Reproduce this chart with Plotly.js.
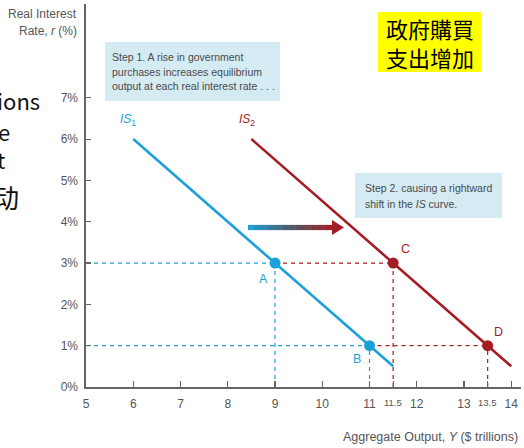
<!DOCTYPE html>
<html>
<head>
<meta charset="utf-8">
<script src="https://cdn.plot.ly/plotly-3.0.1.min.js"></script>
<style>
  html, body { margin: 0; padding: 0; background: #fff; }
  #chart { width: 524px; height: 448px; }
</style>
</head>
<body>
<div id="chart"></div>
<script>
// IS curves: aggregate output (Y, $ trillions) against real interest rate (r, %)
const is1X = [6, 11.5];
const is1Y = [6, 0.5];
const is2X = [8.5, 14];
const is2Y = [6, 0.5];

// Equilibrium points on each curve
const pointNames = ['A', 'B', 'C', 'D'];
const pointX = [9, 11, 11.5, 13.5];
const pointY = [3, 1, 3, 1];

// Axis ticks
const xTickVals = [5, 6, 7, 8, 9, 10, 11, 11.5, 12, 13, 13.5, 14];
const xTickText = ['5', '6', '7', '8', '9', '10', '11', '11.5', '12', '13', '13.5', '14'];
const yTickVals = [0, 1, 2, 3, 4, 5, 6, 7];
const yTickText = ['0%', '1%', '2%', '3%', '4%', '5%', '6%', '7%'];

// Text
const yTitleLines = ['Real Interest', 'Rate, <i>r</i> (%)'];
const xTitle = 'Aggregate Output, <i>Y</i> ($ trillions)';
const step1Lines = ['Step 1. A rise in government', 'purchases increases equilibrium', 'output at each real interest rate . . .'];
const step2Lines = ['Step 2. causing a rightward', 'shift in the <i>IS</i> curve.'];
const noteLines = ['政府購買', '支出增加'];
const sideText = ['ions', 'e', 't', '动'];

const CYAN = '#1ca0d8';
const RED = '#a51d24';
const AXIS = '#666666';
const LABEL = '#555555';

// Plot area in page pixels
const W = 524, H = 448;
const M = { l: 86, r: 3, t: 4, b: 61 };
const PW = W - M.l - M.r, PH = H - M.t - M.b;
const px = x => (x - M.l) / PW;        // page x -> paper x
const py = y => (H - M.b - y) / PH;    // page y -> paper y

const xRange = [5, 14.206];
const yRange = [0, 9.27];

const [A, B, C, D] = pointNames.map((n, i) => ({ x: pointX[i], y: pointY[i] }));

function guide(x0, y0, x1, y1, color) {
  return {
    x: [x0, x1], y: [y0, y1], mode: 'lines', hoverinfo: 'skip', showlegend: false,
    line: { color: color, width: 1.2, dash: '4px,4px' }
  };
}

const traces = [
  // dashed guides to the axes
  guide(xRange[0], A.y, A.x, A.y, CYAN),
  guide(A.x, A.y, C.x, C.y, RED),
  guide(xRange[0], B.y, B.x, B.y, CYAN),
  guide(B.x, B.y, D.x, D.y, RED),
  guide(A.x, 0, A.x, A.y, CYAN),
  guide(B.x, 0, B.x, B.y, CYAN),
  guide(C.x, 0, C.x, C.y, RED),
  guide(D.x, 0, D.x, D.y, RED),
  // IS curves
  { x: is1X, y: is1Y, mode: 'lines', line: { color: CYAN, width: 2.6 }, showlegend: false, hoverinfo: 'skip' },
  { x: is2X, y: is2Y, mode: 'lines', line: { color: RED, width: 2.6 }, showlegend: false, hoverinfo: 'skip' },
  // equilibrium points
  { x: pointX.slice(0, 2), y: pointY.slice(0, 2), mode: 'markers', marker: { color: CYAN, size: 11 }, showlegend: false, hoverinfo: 'skip' },
  { x: pointX.slice(2), y: pointY.slice(2), mode: 'markers', marker: { color: RED, size: 11 }, showlegend: false, hoverinfo: 'skip' }
];

const annotations = [];
const shapes = [];
const baseFont = 'Liberation Sans Narrow, Liberation Sans, Arial, sans-serif';

function note(text, x, y, opts) {
  annotations.push(Object.assign({
    text: text, xref: 'paper', yref: 'paper', x: px(x), y: py(y),
    showarrow: false, xanchor: 'left', yanchor: 'middle',
    font: { family: baseFont, size: 11, color: LABEL }
  }, opts || {}));
}

// Axis titles
note(yTitleLines[0], 79, 14, { xanchor: 'right', font: { family: baseFont, size: 12, color: LABEL } });
note(yTitleLines[1], 79, 31, { xanchor: 'right', font: { family: baseFont, size: 12, color: LABEL } });
note(xTitle, 520, 437, { xanchor: 'right', font: { family: baseFont, size: 12.5, color: LABEL } });

// Half-step tick labels, set smaller beside the whole-number ones
xTickVals.forEach((v, i) => {
  if (xTickText[i].includes('.')) {
    annotations.push({
      text: xTickText[i], xref: 'x', yref: 'paper', x: v, y: py(402.5),
      showarrow: false, xanchor: 'center', yanchor: 'middle',
      font: { family: baseFont, size: 9.5, color: LABEL }
    });
  }
});

// Curve labels
note('<i>IS</i><sub>1</sub>', 118, 120, { font: { family: baseFont, size: 12, color: CYAN } });
note('<i>IS</i><sub>2</sub>', 237, 120, { font: { family: baseFont, size: 12, color: RED } });

// Point labels
const labelPos = [[263, 279, CYAN], [357, 359, CYAN], [405, 249, RED], [498, 332, RED]];
pointNames.forEach((n, i) => {
  note(n, labelPos[i][0], labelPos[i][1], { xanchor: 'center', font: { family: baseFont, size: 12.5, color: labelPos[i][2] } });
});

// Explanation boxes
function box(x0, y0, x1, y1, fill) {
  shapes.push({ type: 'rect', xref: 'paper', yref: 'paper', x0: px(x0), x1: px(x1), y0: py(y1), y1: py(y0),
    fillcolor: fill, line: { width: 0 }, layer: 'below' });
}
box(105, 42, 280, 101, '#d4ebf3');
step1Lines.forEach((t, i) => note(t, 110, 57 + i * 14.5, { font: { family: baseFont, size: 10.5, color: '#4a4a4a' } }));
box(355, 173, 502, 218, '#d4ebf3');
step2Lines.forEach((t, i) => note(t, 363, 188 + i * 16, { font: { family: baseFont, size: 10.5, color: '#4a4a4a' } }));

// Highlighted Chinese note
box(378, 12, 481, 72, '#ffff00');
note(noteLines.join('<br>'), 430, 42, {
  xanchor: 'center', font: { family: 'Noto Sans CJK TC, sans-serif', size: 22, color: '#000' }
});

// Slide text clipped at the left edge
const sideRight = [42, 12, 7, 21];
const sideY = [100, 131, 159, 196];
const sideSize = [22, 22, 22, 26];
sideText.forEach((t, i) => note(t, sideRight[i], sideY[i], {
  xanchor: 'right', font: { family: 'Noto Sans CJK SC, Noto Sans, sans-serif', size: sideSize[i], color: '#111' }
}));

// Shift arrow: colour fades from the IS1 blue to the IS2 red
function mix(c1, c2, t) {
  const a = [1, 3, 5].map(k => parseInt(c1.substr(k, 2), 16));
  const b = [1, 3, 5].map(k => parseInt(c2.substr(k, 2), 16));
  return 'rgb(' + a.map((v, k) => Math.round(v + (b[k] - v) * t)).join(',') + ')';
}
const arrowX0 = 248, arrowX1 = 334, arrowY = 227.5, steps = 40;
for (let i = 0; i < steps; i++) {
  const t = i / (steps - 1);
  const col = t < 0.5 ? mix(CYAN, '#4f5966', t * 2) : mix('#4f5966', RED, (t - 0.5) * 2);
  const xa = arrowX0 + (arrowX1 - arrowX0) * i / steps;
  const xb = arrowX0 + (arrowX1 - arrowX0) * (i + 1) / steps + 0.5;
  shapes.push({ type: 'rect', xref: 'paper', yref: 'paper', x0: px(xa), x1: px(xb),
    y0: py(arrowY + 2.6), y1: py(arrowY - 2.6), fillcolor: col, line: { width: 0 } });
}
shapes.push({ type: 'path', xref: 'paper', yref: 'paper',
  path: `M ${px(332)} ${py(arrowY - 7.5)} L ${px(344)} ${py(arrowY)} L ${px(332)} ${py(arrowY + 7.5)} Z`,
  fillcolor: RED, line: { width: 0 } });

const layout = {
  width: W, height: H,
  margin: M,
  paper_bgcolor: '#fff', plot_bgcolor: '#fff',
  showlegend: false,
  xaxis: {
    range: xRange, showgrid: false, zeroline: false,
    showline: true, linecolor: AXIS, linewidth: 1.6,
    tickmode: 'array', tickvals: xTickVals,
    ticktext: xTickText.map(t => t.includes('.') ? ' ' : t),
    ticks: 'inside', ticklen: 6, tickwidth: 1.2, tickcolor: AXIS,
    tickfont: { family: baseFont, size: 12, color: LABEL },
    ticklabelstandoff: 5
  },
  yaxis: {
    range: yRange, showgrid: false, zeroline: false,
    showline: true, linecolor: AXIS, linewidth: 1.6,
    tickmode: 'array', tickvals: yTickVals, ticktext: yTickText,
    ticks: 'inside', ticklen: 5, tickwidth: 1.2, tickcolor: AXIS,
    tickfont: { family: baseFont, size: 12, color: LABEL },
    ticklabelstandoff: 4
  },
  shapes: shapes,
  annotations: annotations
};

Plotly.newPlot('chart', traces, layout, { staticPlot: true, displayModeBar: false });
</script>
</body>
</html>
